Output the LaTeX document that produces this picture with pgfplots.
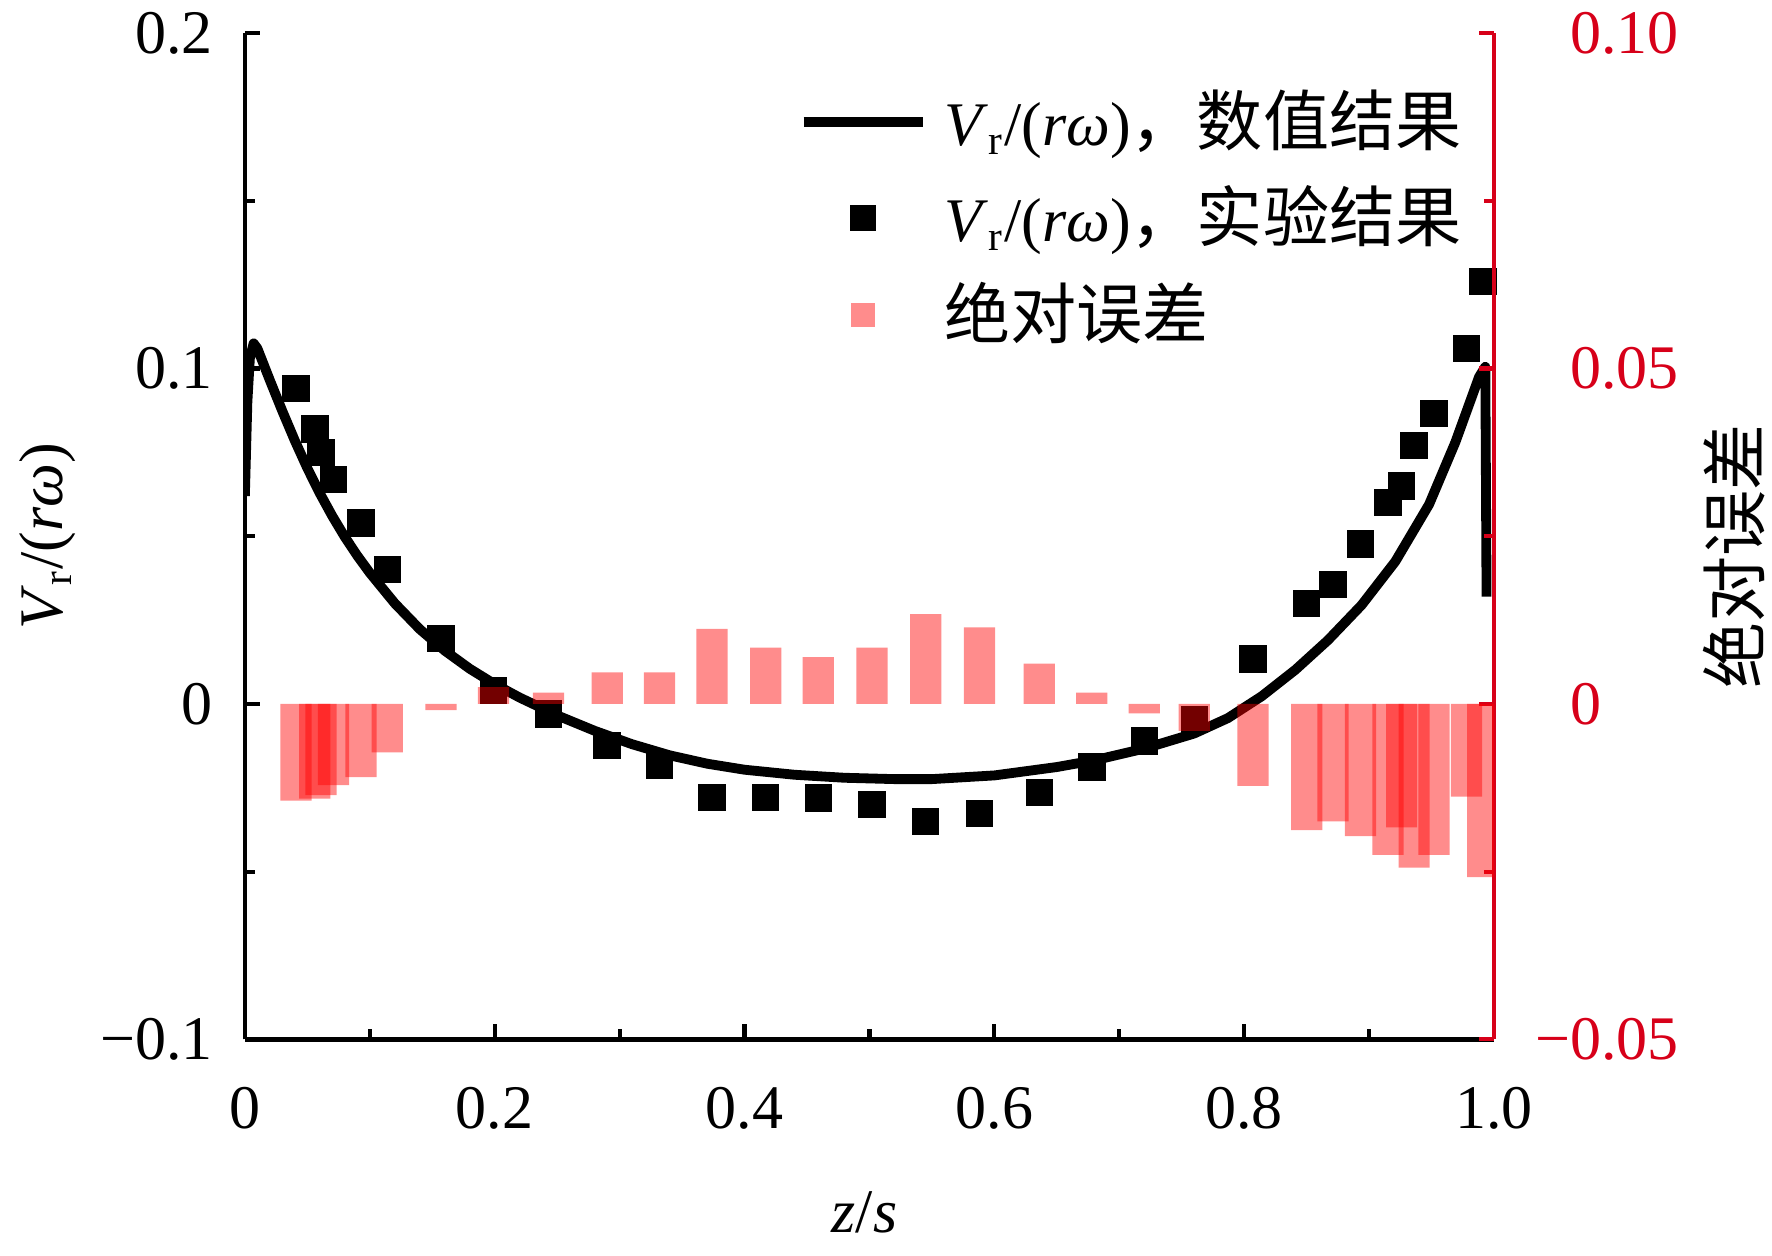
\documentclass[border=0pt,12pt]{standalone}
\usepackage{pgfplots}
\pgfplotsset{compat=1.18}
\usepackage{fontspec}
\setmainfont{Liberation Serif}
\newfontfamily\cjk{Noto Sans CJK SC}
\newcommand{\cj}[1]{{\cjk\fontsize{12.8}{15}\selectfont #1}}
\definecolor{axred}{RGB}{215,0,25}

\pgfplotstableread{
x y
0.000 0.062
0.002 0.090
0.004 0.103
0.007 0.1075
0.010 0.106
0.020 0.0965
0.030 0.0873
0.040 0.0785
0.050 0.0703
0.060 0.0628
0.070 0.0560
0.080 0.0498
0.090 0.0442
0.100 0.0391
0.120 0.0300
0.140 0.0223
0.160 0.0159
0.180 0.0105
0.200 0.0059
0.220 0.0019
0.250 -0.0034
0.280 -0.0080
0.310 -0.0120
0.340 -0.0153
0.370 -0.0178
0.400 -0.0196
0.440 -0.0211
0.480 -0.0220
0.520 -0.0224
0.550 -0.0224
0.600 -0.0213
0.650 -0.0188
0.680 -0.0168
0.720 -0.0133
0.760 -0.0088
0.787 -0.0042
0.814 0.0023
0.841 0.0102
0.867 0.0190
0.894 0.0295
0.921 0.0425
0.948 0.0595
0.969 0.0780
0.988 0.0975
0.993 0.1005
0.994 0.032
}\numtab

\pgfplotstableread{
x y
0.041 0.094
0.056 0.082
0.061 0.075
0.071 0.067
0.093 0.054
0.114 0.040
0.157 0.0195
0.199 0.004
0.243 -0.003
0.290 -0.0124
0.332 -0.0184
0.374 -0.0278
0.417 -0.0278
0.459 -0.028
0.502 -0.030
0.545 -0.035
0.588 -0.0327
0.636 -0.0263
0.678 -0.0188
0.720 -0.011
0.760 -0.0047
0.807 0.0134
0.850 0.030
0.871 0.0356
0.893 0.0477
0.915 0.060
0.926 0.065
0.936 0.077
0.952 0.0866
0.978 0.106
0.991 0.126
}\exptab

% absolute error, split into groups whose bars do not overlap each other
\pgfplotstableread{
x e
0.041 -0.0144
0.071 -0.0121
0.114 -0.0072
0.157 -0.0009
0.199 0.0025
0.243 0.0017
0.290 0.0047
0.332 0.0047
0.374 0.0112
0.417 0.0084
0.459 0.0070
0.502 0.0084
0.545 0.0134
0.588 0.0114
0.636 0.0060
0.678 0.0017
0.720 -0.0014
0.760 -0.0040
0.807 -0.0122
0.850 -0.0188
0.893 -0.0197
0.936 -0.0244
0.978 -0.0138
}\errA
\pgfplotstableread{
x e
0.056 -0.0141
0.093 -0.0109
0.871 -0.0175
0.915 -0.0225
0.952 -0.0225
}\errB
\pgfplotstableread{
x e
0.061 -0.0136
0.926 -0.0184
0.991 -0.0258
}\errC

\pgfplotsset{
  common/.style={
    scale only axis, width=241.8pt, height=194.8pt,
    xmin=0, xmax=1,
    tick align=inside,
    major tick length=3pt, minor tick length=2pt,
    every tick/.style={line width=0.8pt},
  },
  errbar/.style={ybar, bar width=0.025, bar shift=0pt, fill=red, fill opacity=0.45, draw=none},
}

\begin{document}
\begin{tikzpicture}
\path[use as bounding box] (-47.4pt,-41.8pt) rectangle (295.6pt,201.2pt);
\begin{axis}[common,
  ymin=-0.1, ymax=0.2,
  axis x line*=bottom, axis y line*=left,
  axis line style={line width=0.9pt},
  xtick={0,0.2,0.4,0.6,0.8,1.0},
  xticklabels={0,0.2,0.4,0.6,0.8,1.0},
  minor xtick={0.1,0.3,0.5,0.7,0.9},
  ytick={-0.1,0,0.1,0.2},
  yticklabels={−0.1,0,0.1,0.2},
  minor ytick={-0.05,0.05,0.15},
  xticklabel style={yshift=-5pt},
  yticklabel style={xshift=-2pt},
  xlabel={\textit{z}/\textit{s}},
  xlabel style={at={(axis description cs:0.496,-0.172)}, anchor=center},
  ylabel={\textit{V}\textsubscript{r}/(\textit{rω})},
  ylabel style={at={(axis description cs:-0.158,0.5)}, anchor=center},
]
\addplot[black, line width=1.9pt, line join=round] table[x=x,y=y] {\numtab};
\addplot[only marks, mark=square*, mark size=2.45pt, black] table[x=x,y=y] {\exptab};
\end{axis}
\begin{axis}[common,
  ymin=-0.05, ymax=0.10,
  axis x line=none, axis y line*=right,
  y axis line style={axred, line width=0.9pt},
  xtick=\empty,
  ytick={-0.05,0,0.05,0.10},
  yticklabels={\llap{−}0.05,0,0.05,0.10},
  minor ytick={-0.025,0.025,0.075},
  ytick style={axred},
  yticklabel style={axred, anchor=west, xshift=10.5pt},
  ylabel={\cj{绝对误差}},
  ylabel style={at={(axis description cs:1.192,0.48)}, anchor=center, black},
  legend style={draw=none, fill=none, at={(axis description cs:0.983,0.955)}, anchor=north east, row sep=2pt, inner sep=0pt},
  legend cell align=left,
]
\addlegendimage{black, legend image code/.code={\path (0pt,0pt) (25pt,0pt); \draw[black, line width=1.9pt] (0pt,0pt) -- (23pt,0pt);}}
\addlegendentry{\textit{V}\textsubscript{r}/(\textit{rω})\cj{，数值结果}}
\addlegendimage{black, legend image code/.code={\path (0pt,0pt) (25pt,0pt); \fill[black] (9.2pt,-2.3pt) rectangle (13.8pt,2.3pt);}}
\addlegendentry{\textit{V}\textsubscript{r}/(\textit{rω})\cj{，实验结果}}
\addplot[errbar,
  legend image code/.code={\path (0pt,0pt) (25pt,0pt); \fill[red, fill opacity=0.45] (9.2pt,-2.3pt) rectangle (13.8pt,2.3pt);}]
  table[x=x,y=e] {\errA};
\addlegendentry{\cj{绝对误差}}
\addplot[errbar, forget plot] table[x=x,y=e] {\errB};
\addplot[errbar, forget plot] table[x=x,y=e] {\errC};
\end{axis}
\end{tikzpicture}
\end{document}
